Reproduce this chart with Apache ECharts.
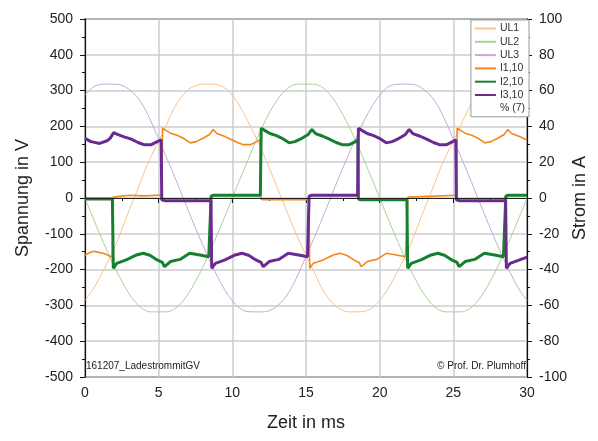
<!DOCTYPE html>
<html><head><meta charset="utf-8">
<script src="https://cdn.jsdelivr.net/npm/echarts@6/dist/echarts.min.js"></script>
<style>html,body{margin:0;padding:0;background:#fff}#c{width:598px;height:441px}</style>
</head><body><div id="c"></div>
<script>
// Time axis for voltage samples (ms)
const timeV = [0,0.5,1,1.5,2,2.5,3,3.5,4,4.5,5,5.5,6,6.5,7,7.5,8,8.5,9,9.5,10,10.5,11,11.5,12,12.5,13,13.5,14,14.5,15,15.5,16,16.5,17,17.5,18,18.5,19,19.5,20,20.5,21,21.5,22,22.5,23,23.5,24,24.5,25,25.5,26,26.5,27,27.5,28,28.5,29,29.5,30];
// Phase voltages (V)
const ul1 = [-286,-258,-222,-182,-140,-88,-34,16,70,118,158,202,247,280,302,314,318,318,316,307,287,257,219,178,133,84,34,-17,-68,-116,-160,-203,-246,-279,-301,-314,-318,-318,-316,-307,-286,-258,-222,-182,-140,-88,-34,16,70,118,158,202,247,280,302,314,318,318,316,307,287];
const ul2 = [0,-51,-100,-148,-193,-233,-268,-295,-312,-318,-318,-318,-312,-295,-268,-233,-193,-148,-100,-51,0,51,100,150,196,237,271,297,313,318,318,318,312,295,268,233,193,148,100,51,0,-51,-100,-148,-193,-233,-268,-295,-312,-318,-318,-318,-312,-295,-268,-233,-193,-148,-100,-51,0];
const ul3 = [288,308,317,318,318,315,303,284,254,212,165,116,68,17,-34,-84,-132,-178,-220,-258,-287,-308,-317,-318,-318,-315,-303,-283,-252,-210,-163,-116,-68,-17,34,84,132,178,220,258,287,308,317,318,318,315,303,284,254,212,165,116,68,17,-34,-84,-132,-178,-220,-258,-286];
// Phase currents (A): times and values
const i1T = [0,0.3,0.6,1.0,1.3,1.7,1.86,1.92,2.0,3.0,4.0,5.0,5.22,5.26,5.55,5.85,6.25,6.65,7.15,7.55,8.05,8.45,8.7,8.95,9.45,9.85,10.35,10.75,11.25,11.65,11.9,11.95,12.1,13.5,15.2,15.25,15.5,16.15,16.85,17.3,17.75,18.25,18.6,18.75,19.15,19.8,20.45,21.15,21.75,21.88,21.92,22.0,25.22,25.26,25.55,25.85,26.25,26.65,27.15,27.55,28.05,28.45,28.7,28.95,29.45,29.85,30];
const i1V = [-31.8,-30.6,-29.8,-30.4,-31.0,-32.5,-33.0,0.5,1.5,1.5,1.2,1.5,1.5,39.0,37.5,36.0,35.0,33.5,30.8,31.5,33.5,35.5,38.3,36.0,34.5,33.0,31.0,29.8,29.8,31.5,32.5,-0.5,-1.0,-1.0,-1.0,-39.3,-36.5,-34.6,-31.8,-30.9,-32.0,-34.6,-36.0,-38.4,-35.5,-34.3,-30.9,-31.8,-32.8,-33.0,0.5,1.5,1.5,39.0,37.5,36.0,35.0,33.5,30.8,31.5,33.5,35.5,38.3,36.0,34.5,33.0,32.5];
const i2T = [0,1.86,1.92,2.15,2.8,3.5,3.95,4.4,4.9,5.25,5.4,5.8,6.45,7.1,7.8,8.4,8.52,8.56,8.7,11.9,11.96,12.25,12.55,12.95,13.35,13.85,14.25,14.75,15.15,15.4,15.65,16.15,16.55,17.05,17.45,17.95,18.35,18.52,18.56,18.7,21.85,21.9,22.15,22.8,23.5,23.95,24.4,24.9,25.25,25.4,25.8,26.45,27.1,27.8,28.4,28.52,28.56,28.7,30];
const i2V = [-0.5,-0.5,-39.3,-36.5,-34.6,-31.8,-30.9,-32.0,-34.6,-36.0,-38.4,-35.5,-34.3,-30.9,-31.8,-32.8,-33.0,1.0,1.5,1.5,39.0,37.5,36.0,35.0,33.5,30.8,31.5,33.5,35.5,38.3,36.0,34.5,33.0,31.0,29.8,29.8,31.5,32.5,-0.5,-1.0,-1.0,-39.3,-36.5,-34.6,-31.8,-30.9,-32.0,-34.6,-36.0,-38.4,-35.5,-34.3,-30.9,-31.8,-32.8,-33.0,1.0,1.5,1.5];
const i3T = [0,0.4,1.0,1.5,1.7,1.95,2.2,2.7,3.1,3.6,4.0,4.5,4.9,5.17,5.21,5.4,8.55,8.6,8.85,9.5,10.2,10.65,11.1,11.6,11.95,12.1,12.5,13.15,13.8,14.5,15.1,15.17,15.21,15.35,18.5,18.56,18.85,19.15,19.55,19.95,20.45,20.85,21.35,21.75,22.0,22.25,22.75,23.15,23.65,24.05,24.55,24.95,25.17,25.21,25.4,28.55,28.6,28.85,29.5,30];
const i3V = [33.3,31.5,30.5,32.0,33.3,36.5,35.5,34.0,33.0,31.0,29.8,29.8,31.5,32.5,-1.0,-1.5,-1.5,-39.3,-36.5,-34.6,-31.8,-30.9,-32.0,-34.6,-36.0,-38.4,-35.5,-34.3,-30.9,-31.8,-32.8,-33.0,1.0,1.5,1.5,39.0,37.5,36.0,35.0,33.5,30.8,31.5,33.5,35.5,38.3,36.0,34.5,33.0,31.0,29.8,29.8,31.5,32.5,-1.0,-1.5,-1.5,-39.3,-36.5,-34.6,-33.0];
// Axis ticks
const xTicks = {min: 0, max: 30, step: 5};
const yLeft = {min: -500, max: 500, step: 100};
const yRight = {min: -100, max: 100, step: 20};

const zip = (t, v) => t.map((x, i) => [x, v[i]]);
const FONT = 'Liberation Sans, Arial, sans-serif';
const chart = echarts.init(document.getElementById('c'), null, {renderer: 'canvas'});

const axisCommon = {
  axisLine: {show: true, lineStyle: {color: '#111', width: 1.2}},
  axisTick: {show: true, inside: false, length: 5, lineStyle: {color: '#111'}},
  minorTick: {show: true, splitNumber: 2, length: 3, lineStyle: {color: '#111'}},
  axisLabel: {color: '#222', fontSize: 14, fontFamily: FONT},
  nameTextStyle: {color: '#222', fontSize: 18, fontFamily: FONT},
  nameMoveOverlap: false
};

const option = {
  animation: false,
  backgroundColor: '#fff',
  grid: {left: 85, right: 71, top: 19, bottom: 64, show: true, borderColor: '#333', borderWidth: 1.5, containLabel: false, outerBoundsMode: 'none'},
  xAxis: Object.assign({}, axisCommon, {
    type: 'value', min: xTicks.min, max: xTicks.max, interval: xTicks.step,
    name: 'Zeit in ms', nameLocation: 'middle', nameGap: 37,
    splitLine: {show: true, lineStyle: {color: '#cdcdcd', width: 1.5}},
    axisLabel: Object.assign({}, axisCommon.axisLabel, {margin: 9})
  }),
  yAxis: [
    Object.assign({}, axisCommon, {
      type: 'value', position: 'left', min: yLeft.min, max: yLeft.max, interval: yLeft.step,
      name: 'Spannung in V', nameLocation: 'middle', nameGap: 53, nameRotate: 90,
      splitLine: {show: true, lineStyle: {color: '#cdcdcd', width: 1.5}},
      axisLabel: Object.assign({}, axisCommon.axisLabel, {margin: 12})
    }),
    Object.assign({}, axisCommon, {
      type: 'value', position: 'right', min: yRight.min, max: yRight.max, interval: yRight.step,
      name: 'Strom in A', nameLocation: 'middle', nameGap: 44, nameRotate: 90,
      splitLine: {show: false},
      axisLabel: Object.assign({}, axisCommon.axisLabel, {margin: 12})
    })
  ],
  legend: {
    orient: 'vertical', right: 69, top: 20,
    itemWidth: 21, itemHeight: 10, itemGap: 2.3,
    padding: [3, 4, 3, 3],
    backgroundColor: '#fff', borderColor: '#999', borderWidth: 1,
    itemStyle: {opacity: 0},
    textStyle: {color: '#333', fontSize: 10.5, fontFamily: FONT, padding: [0, 0, 0, -1]},
    data: ['UL1', 'UL2', 'UL3', 'I1,10', 'I2,10', 'I3,10', {name: '% (7)', icon: 'none'}]
  },
  graphic: [
    {type: 'text', left: 86, top: 361, z: 100, style: {text: '161207_LadestrommitGV', font: '10px ' + FONT, fill: '#222'}},
    {type: 'text', right: 72, top: 361, z: 100, style: {text: '\u00A9 Prof. Dr. Plumhoff', font: '10px ' + FONT, fill: '#222'}}
  ],
  series: [
    {name: 'UL1', type: 'line', yAxisIndex: 0, symbol: 'none', smooth: 0.35, data: zip(timeV, ul1),
     lineStyle: {color: '#FBC28C', width: 1}, itemStyle: {color: '#FBC28C'},
     markLine: {silent: true, symbol: 'none', label: {show: false}, lineStyle: {color: '#222', width: 1, type: 'solid'}, data: [{yAxis: 0}]}},
    {name: 'UL2', type: 'line', yAxisIndex: 0, symbol: 'none', smooth: 0.35, data: zip(timeV, ul2),
     lineStyle: {color: '#A6D39A', width: 1}, itemStyle: {color: '#A6D39A'}},
    {name: 'UL3', type: 'line', yAxisIndex: 0, symbol: 'none', smooth: 0.35, data: zip(timeV, ul3),
     lineStyle: {color: '#C6A9DC', width: 1}, itemStyle: {color: '#C6A9DC'}},
    {name: 'I1,10', type: 'line', yAxisIndex: 1, symbol: 'none', data: zip(i1T, i1V),
     lineStyle: {color: '#F5861C', width: 1.6}, itemStyle: {color: '#F5861C'}},
    {name: 'I2,10', type: 'line', yAxisIndex: 1, symbol: 'none', data: zip(i2T, i2V),
     lineStyle: {color: '#16802F', width: 3}, itemStyle: {color: '#16802F'}},
    {name: 'I3,10', type: 'line', yAxisIndex: 1, symbol: 'none', data: zip(i3T, i3V),
     lineStyle: {color: '#6A2B90', width: 3}, itemStyle: {color: '#6A2B90'}},
    {name: '% (7)', type: 'line', yAxisIndex: 1, symbol: 'none', data: [],
     lineStyle: {opacity: 0}, itemStyle: {opacity: 0}}
  ]
};
chart.setOption(option);
</script>
</body></html>
